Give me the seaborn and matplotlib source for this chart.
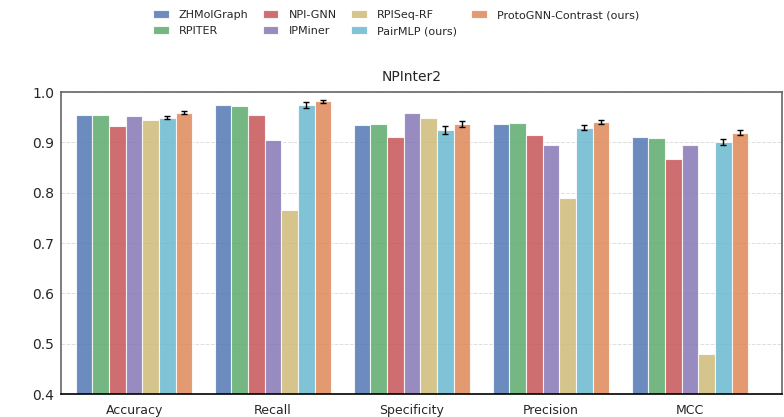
import numpy as np
import pandas as pd
import seaborn as sns
import matplotlib.pyplot as plt

# ----------------------------
# Data
# ----------------------------
metrics = ["Accuracy", "Recall", "Specificity", "Precision", "MCC"]
methods = ["ZHMolGraph", "RPITER", "NPI-GNN", "IPMiner", "RPISeq-RF",
           "PairMLP (ours)", "ProtoGNN-Contrast (ours)"]

zhmolgraph = [0.954, 0.974, 0.934, 0.937, 0.911]
rpiter     = [0.954, 0.972, 0.936, 0.938, 0.909]
npi_gnn    = [0.932, 0.955, 0.910, 0.914, 0.867]
ipminer    = [0.952, 0.905, 0.958, 0.895, 0.895]
rpiseq_rf  = [0.944, 0.765, 0.948, 0.789, 0.479]
pairmlp    = [0.949, 0.974, 0.925, 0.929, 0.900]
protognn   = [0.959, 0.982, 0.936, 0.940, 0.919]

pairmlp_err  = [0.003, 0.006, 0.008, 0.005, 0.006]
protognn_err = [0.003, 0.003, 0.006, 0.004, 0.005]

values = [zhmolgraph, rpiter, npi_gnn, ipminer, rpiseq_rf, pairmlp, protognn]
errors = {"PairMLP (ours)": pairmlp_err, "ProtoGNN-Contrast (ours)": protognn_err}

colors = ["#4C72B0", "#55A868", "#C44E52", "#8172B3", "#CCB974", "#64B5CD", "#DD8452"]

df = pd.DataFrame(
    [(m, metric, v[i]) for m, v in zip(methods, values) for i, metric in enumerate(metrics)],
    columns=["method", "metric", "score"],
)

# ----------------------------
# Plot
# ----------------------------
sns.set_style("white")
fig = plt.figure(figsize=(7.84, 4.17), dpi=100)
ax = fig.add_axes([0.078, 0.055, 0.919, 0.724])

sns.barplot(
    data=df, x="metric", y="score", hue="method",
    hue_order=methods, order=metrics, palette=colors, saturation=1,
    width=0.84, errorbar=None, alpha=0.82,
    edgecolor="white", linewidth=0.8, ax=ax, legend=True,
)

# custom error bars for our methods
for container, name in zip(ax.containers, methods):
    if name in errors:
        xs = [p.get_x() + p.get_width() / 2 for p in container]
        ys = [p.get_height() for p in container]
        ax.errorbar(xs, ys, yerr=errors[name], fmt="none", ecolor="black",
                    elinewidth=1.0, capsize=2, capthick=1.0, zorder=5)

ax.set_ylim(0.4, 1.0)
ax.set_xlim(-0.525, 4.66)
ax.set_title("NPInter2", fontsize=10, pad=8, x=0.487)
ax.set_xlabel("")
ax.set_ylabel("")
ax.tick_params(axis="y", labelsize=10, length=3, color="#666666", pad=2)
ax.tick_params(axis="x", labelsize=9, length=3, color="#666666", pad=4)
ax.yaxis.grid(True, linestyle="--", color="#dddddd", linewidth=0.7)
ax.set_axisbelow(True)

for side in ["top", "left", "right"]:
    ax.spines[side].set_color("#666666")
    ax.spines[side].set_linewidth(1.2)
ax.spines["bottom"].set_color("black")
ax.spines["bottom"].set_linewidth(1.2)

handles, labels = ax.get_legend_handles_labels()
ax.get_legend().remove()
fig.legend(handles, labels, loc="upper center", bbox_to_anchor=(0.505, 1.0),
           ncol=4, frameon=False, fontsize=8, handlelength=1.4,
           columnspacing=1.3, handletextpad=0.9, labelspacing=0.55)

plt.savefig("out.png", dpi=100)
